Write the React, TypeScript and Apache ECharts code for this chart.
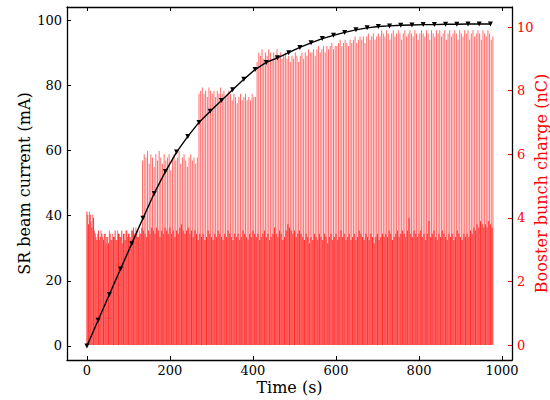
import React, { useEffect, useRef } from "react";
import * as echarts from "echarts";

// Black curve: SR beam current (mA) sampled at the marker times (s)
const currentTimes = [0, 27, 54, 81, 108, 135, 162, 189, 216, 243, 270, 297, 324, 351, 378, 405, 432, 459, 486, 513, 540, 567, 594, 621, 648, 675, 702, 729, 756, 783, 810, 837, 864, 891, 918, 945, 972];
const currentValues = [0, 7.9, 15.8, 23.6, 31.4, 39.2, 46.8, 53.5, 59.5, 64.3, 68.6, 72.0, 75.3, 78.6, 81.8, 84.8, 87.0, 88.4, 90.0, 91.6, 93.0, 94.3, 95.3, 96.2, 97.0, 97.6, 98.0, 98.2, 98.4, 98.5, 98.6, 98.6, 98.7, 98.7, 98.8, 98.8, 98.8];

// Booster bunch charge (nC): shots every 4 s; "tall" shots start at 2 s, "low" shots at 0 s
const shotInterval = 4;
const tallShotStart = 2;
const lowShotStart = 0;
const tallCharge = [
  4.1, 4.2, 3.9, 4.1, 3.6, 3.4, 3.5, 3.3, 3.6, 3.4, 3.5, 3.2, 3.4, 3.6, 3.3, 3.5, 3.4, 3.3, 3.6, 3.5, 3.4, 3.2, 3.5, 3.6, 3.4, 3.5, 3.3, 3.6, 3.5, 3.7, 3.4, 3.6, 3.5,
  5.8, 6.0, 5.9, 6.1, 5.7, 6.0, 5.9, 5.6, 6.0, 5.8, 6.1, 5.9, 5.7, 6.0, 5.8, 5.9, 6.0, 5.5, 5.9, 6.0, 5.8, 5.9, 6.1, 5.7, 5.9, 6.0, 5.8, 5.6, 5.9, 6.0, 5.8, 5.9, 5.7, 5.9,
  7.9, 8.0, 8.1, 7.9, 8.0, 7.8, 8.1, 8.0, 7.9, 8.0, 7.8, 8.0, 7.9, 8.1, 7.9, 8.0, 7.8, 7.9, 8.0, 7.9, 7.7, 7.9, 7.8, 7.6, 7.8, 7.9, 7.7, 7.8, 7.9, 7.7, 7.8, 7.7, 7.9, 7.8, 7.8,
  8.9, 9.2, 9.1, 9.3, 9.0, 9.2, 9.1, 9.3, 9.2, 9.0, 9.2, 9.1, 9.3, 9.1, 9.2, 9.0, 9.1, 9.2,
  9.0, 9.1, 8.9, 9.1, 9.0, 9.2, 9.1, 8.9, 9.1, 9.2, 9.0, 9.2, 9.1, 9.3, 9.2,
  9.2, 9.3, 9.1, 9.3, 9.4, 9.2, 9.3, 9.4, 9.2, 9.4, 9.3, 9.4, 9.5, 9.3, 9.4,
  9.4, 9.5, 9.6, 9.4, 9.5, 9.6, 9.5, 9.4, 9.6, 9.5, 9.6, 9.7, 9.5,
  9.6, 9.7, 9.6, 9.7, 9.5, 9.7, 9.8, 9.6, 9.7, 9.8, 9.6, 9.7,
  9.8, 9.7, 9.9, 9.8, 9.7, 9.9, 9.8, 9.6, 9.8, 9.9,
  9.7, 9.8, 9.9, 9.8, 9.6, 9.8, 9.9, 9.7, 9.8, 9.9,
  9.8, 9.7, 9.9, 9.8, 9.6, 9.8, 9.9, 9.8, 9.7, 9.9,
  9.8, 9.6, 9.9, 9.8, 9.7, 9.9, 9.8, 9.9, 9.7, 9.8,
  9.9, 9.6, 9.8, 9.9, 9.7, 9.8, 9.9, 9.8, 9.6, 9.9,
  9.8, 9.7, 9.9, 9.8, 9.9, 9.6, 9.8, 9.9, 9.7, 9.8,
  9.9, 9.8, 9.6, 9.9, 9.8, 9.7, 9.9, 9.8, 9.6, 9.7,
];
const lowCharge = [
  4.2, 3.8, 4.1, 3.7, 4.0, 3.5, 3.3, 3.6, 3.4, 3.5,
  3.3, 3.5, 3.4, 3.2, 3.5, 3.3, 3.4, 3.6, 3.3, 3.5,
  3.4, 3.6, 3.5, 3.3, 3.6, 3.5, 3.4, 3.6, 3.7, 3.5,
  3.6, 3.4, 3.5, 3.7, 3.6, 3.5, 3.4, 3.6, 3.5, 3.7,
  3.6, 3.5, 3.7, 3.6, 3.4, 3.6, 3.5, 3.7, 3.6, 3.5,
  3.7, 3.5, 3.6, 3.4, 3.6, 3.5, 3.7, 3.8, 3.6, 3.5,
  3.6, 3.7, 3.5, 3.6, 3.4, 3.6, 3.5, 3.3, 3.5, 3.4,
  3.5, 3.3, 3.4, 3.6, 3.5, 3.4, 3.3, 3.5, 3.4, 3.6,
  3.5, 3.4, 3.3, 3.5, 3.4, 3.6, 3.5, 3.4, 3.3, 3.5,
  3.4, 3.5, 3.3, 3.4, 3.6, 3.5, 3.4, 3.3, 3.5, 3.4,
  3.6, 3.5, 3.4, 3.5, 3.3, 3.4, 3.5, 3.6, 3.4, 3.5,
  3.3, 3.4, 3.5, 3.7, 3.5, 3.4, 3.6, 3.5, 3.3, 3.4,
  3.6, 3.8, 3.7, 3.6, 3.5, 3.6, 3.4, 3.5, 3.6, 3.5,
  3.4, 3.3, 3.5, 3.4, 3.2, 3.4, 3.3, 3.5, 3.4, 3.3,
  3.5, 3.4, 3.3, 3.5, 3.4, 3.2, 3.4, 3.5, 3.3, 3.4,
  3.5, 3.3, 3.4, 3.6, 3.4, 3.5, 3.3, 3.4, 3.5, 3.3,
  3.4, 3.5, 3.3, 3.4, 3.6, 3.5, 3.4, 3.3, 3.5, 3.4,
  3.3, 3.5, 3.4, 3.2, 3.4, 3.5, 3.3, 3.4, 3.5, 3.4,
  3.5, 3.4, 3.6, 3.5, 3.3, 3.4, 3.5, 3.6, 3.4, 3.5,
  3.6, 3.5, 3.4, 3.6, 4.0, 3.5, 3.4, 3.6, 3.5, 3.4,
  3.5, 3.6, 3.4, 3.5, 3.3, 3.5, 3.9, 3.4, 3.5, 3.6,
  3.4, 3.3, 3.5, 3.4, 3.6, 3.5, 3.4, 3.3, 3.5, 3.4,
  3.5, 3.3, 3.4, 3.6, 3.5, 3.4, 3.3, 3.5, 3.4, 3.5,
  3.4, 3.6, 3.5, 3.7, 3.6, 3.8, 3.7, 3.9, 3.8, 3.7,
  3.8, 3.7, 3.9, 3.8, 3.7,
];

const xTicks = [0, 200, 400, 600, 800, 1000];
const leftTicks = [0, 20, 40, 60, 80, 100];
const rightTicks = [0, 2, 4, 6, 8, 10];

const FONT = "DejaVu Serif";
const RED = "#ff0000";
const plain = (v: number) => String(v);

export default function App() {
  const ref = useRef<HTMLDivElement>(null);
  useEffect(() => {
    if (!ref.current) return;
    const chart = echarts.init(ref.current, undefined, { renderer: "svg" });
    const tallData = tallCharge.map((v, i) => [tallShotStart + i * shotInterval, v]);
    const lowData = lowCharge.map((v, i) => [lowShotStart + i * shotInterval, v]);
    const lineData = currentTimes.map((t, i) => [t, currentValues[i]]);
    const frameLine = { show: true, onZero: false, lineStyle: { color: "#000", width: 1.3 } };
    chart.setOption({
      animation: false,
      backgroundColor: "#ffffff",
      grid: { left: 67, right: 38, top: 7, bottom: 40, containLabel: false, outerBoundsMode: "none" },
      xAxis: [
        {
          type: "value",
          min: -48,
          max: 1024,
          name: "Time (s)",
          nameLocation: "middle",
          nameGap: 19,
          nameMoveOverlap: false,
          nameTextStyle: { fontFamily: FONT, fontSize: 16, color: "#000" },
          axisLine: frameLine,
          splitLine: { show: false },
          axisTick: { inside: true, length: 4, customValues: xTicks, lineStyle: { color: "#000" } },
          axisLabel: { customValues: xTicks, formatter: plain, fontFamily: FONT, fontSize: 13, color: "#000", margin: 4 },
        },
        {
          type: "value",
          position: "top",
          min: -48,
          max: 1024,
          axisLine: frameLine,
          splitLine: { show: false },
          axisTick: { inside: true, length: 4, customValues: xTicks, lineStyle: { color: "#000" } },
          axisLabel: { show: false },
        },
      ],
      yAxis: [
        {
          type: "value",
          position: "left",
          min: -4.3,
          max: 104,
          name: "SR beam current (mA)",
          nameLocation: "middle",
          nameRotate: 90,
          nameGap: 35,
          nameMoveOverlap: false,
          nameTextStyle: { fontFamily: FONT, fontSize: 16, color: "#000" },
          axisLine: frameLine,
          splitLine: { show: false },
          axisTick: { inside: true, length: 4, customValues: leftTicks, lineStyle: { color: "#000" } },
          axisLabel: { customValues: leftTicks, formatter: plain, fontFamily: FONT, fontSize: 13, color: "#000", margin: 5 },
        },
        {
          type: "value",
          position: "right",
          min: -0.47,
          max: 10.63,
          name: "Booster bunch charge (nC)",
          nameLocation: "middle",
          nameRotate: 90,
          nameGap: 21,
          nameMoveOverlap: false,
          nameTextStyle: { fontFamily: FONT, fontSize: 16, color: RED },
          axisLine: frameLine,
          splitLine: { show: false },
          axisTick: { inside: true, length: 4, customValues: rightTicks, lineStyle: { color: RED } },
          axisLabel: { customValues: rightTicks, formatter: plain, fontFamily: FONT, fontSize: 13, color: RED, margin: 5 },
        },
      ],
      series: [
        {
          type: "bar",
          name: "low",
          xAxisIndex: 0,
          yAxisIndex: 1,
          data: lowData,
          barWidth: 1,
          barGap: "-100%",
          itemStyle: { color: "rgba(255,0,0,0.78)" },
          z: 2,
        },
        {
          type: "bar",
          name: "tall",
          xAxisIndex: 0,
          yAxisIndex: 1,
          data: tallData,
          barWidth: 1,
          barGap: "-100%",
          itemStyle: { color: "rgba(255,0,0,0.58)" },
          z: 2,
        },
        {
          type: "line",
          name: "current",
          xAxisIndex: 0,
          yAxisIndex: 0,
          data: lineData,
          symbol: "triangle",
          symbolRotate: 180,
          symbolSize: 5,
          showSymbol: true,
          lineStyle: { color: "#000", width: 1.4 },
          itemStyle: { color: "#000" },
          z: 5,
        },
      ],
    });
    return () => chart.dispose();
  }, []);
  return <div ref={ref} style={{ position: "absolute", left: 0, top: 0, width: 550, height: 400 }} />;
}
